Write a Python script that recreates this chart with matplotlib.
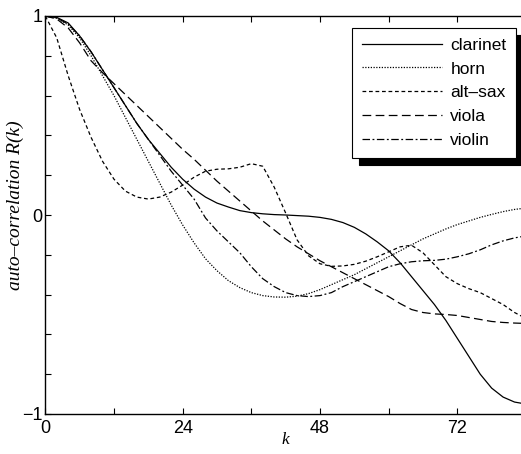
import matplotlib
matplotlib.use("Agg")
import matplotlib.pyplot as plt
from matplotlib.ticker import FixedLocator

K = list(range(0, 86, 2))

clarinet = [1.0, 0.993, 0.965, 0.90, 0.82, 0.73, 0.64, 0.55, 0.46, 0.38,
            0.31, 0.24, 0.18, 0.13, 0.09, 0.06, 0.04, 0.022, 0.012, 0.006,
            0.002, 0.0, -0.003, -0.006, -0.012, -0.022, -0.038, -0.062, -0.095, -0.135,
            -0.18, -0.24, -0.31, -0.38, -0.45, -0.53, -0.62, -0.71, -0.80, -0.87,
            -0.915, -0.94, -0.95]

horn = [1.0, 0.99, 0.955, 0.89, 0.80, 0.70, 0.60, 0.49, 0.38, 0.27,
        0.16, 0.05, -0.05, -0.14, -0.22, -0.28, -0.33, -0.365, -0.39, -0.405,
        -0.412, -0.413, -0.408, -0.395, -0.375, -0.35, -0.325, -0.30, -0.27, -0.24,
        -0.21, -0.18, -0.15, -0.12, -0.095, -0.07, -0.048, -0.03, -0.012, 0.003,
        0.017, 0.028, 0.035]

altsax = [1.0, 0.89, 0.70, 0.53, 0.39, 0.27, 0.18, 0.12, 0.09, 0.08,
          0.09, 0.115, 0.15, 0.19, 0.22, 0.23, 0.232, 0.24, 0.258, 0.245,
          0.14, 0.01, -0.125, -0.205, -0.245, -0.258, -0.256, -0.248, -0.232, -0.21,
          -0.185, -0.16, -0.152, -0.19, -0.25, -0.31, -0.345, -0.37, -0.39, -0.42,
          -0.45, -0.49, -0.52]

viola = [1.0, 0.985, 0.94, 0.865, 0.775, 0.715, 0.66, 0.605, 0.55, 0.495,
         0.44, 0.385, 0.33, 0.28, 0.225, 0.17, 0.12, 0.07, 0.02, -0.03,
         -0.075, -0.12, -0.16, -0.195, -0.23, -0.26, -0.29, -0.32, -0.35, -0.38,
         -0.41, -0.445, -0.475, -0.49, -0.497, -0.50, -0.505, -0.515, -0.525, -0.535,
         -0.54, -0.543, -0.545]

violin = [1.0, 0.99, 0.96, 0.90, 0.82, 0.73, 0.64, 0.55, 0.46, 0.38,
          0.30, 0.22, 0.15, 0.08, -0.015, -0.08, -0.135, -0.19, -0.26, -0.32,
          -0.36, -0.39, -0.405, -0.41, -0.405, -0.39, -0.36, -0.335, -0.31, -0.285,
          -0.26, -0.245, -0.235, -0.23, -0.228, -0.222, -0.21, -0.195, -0.175, -0.15,
          -0.13, -0.115, -0.105]

labels = ["clarinet", "horn", "alt\u2013sax", "viola", "violin"]
x_major = [0, 24, 48, 72]
x_minor = [12, 36, 60, 84]
y_major = [-1, 0, 1]
y_major_labels = ["\u22121", "0", "1"]
y_minor = [-0.8, -0.6, -0.4, -0.2, 0.2, 0.4, 0.6, 0.8]

plt.rcParams['font.family'] = ['Liberation Sans', 'DejaVu Sans']

fig = plt.figure(figsize=(5.21, 4.54), dpi=100)
W, H = 521, 454
ax = fig.add_axes([45.3 / W, 40 / H, 480.7 / W, 398 / H])

lw = 0.9
ax.plot(K, clarinet, color='k', lw=lw, ls='-', label=labels[0])
ax.plot(K, horn, color='k', lw=lw, ls=(0, (1, 1.2)), label=labels[1])
ax.plot(K, altsax, color='k', lw=lw, ls=(0, (3, 2.2)), label=labels[2])
ax.plot(K, viola, color='k', lw=lw, ls=(0, (7, 3.5)), label=labels[3])
ax.plot(K, violin, color='k', lw=lw, ls=(0, (6, 2, 1.5, 2)), label=labels[4])

ax.set_xlim(0, 84)
ax.set_ylim(-1, 1)
ax.xaxis.set_major_locator(FixedLocator(x_major))
ax.xaxis.set_minor_locator(FixedLocator(x_minor))
ax.yaxis.set_major_locator(FixedLocator(y_major))
ax.yaxis.set_minor_locator(FixedLocator(y_minor))
ax.set_yticklabels(y_major_labels)
ax.tick_params(which='both', direction='in', length=4, width=0.8,
               top=True, right=False, labelsize=13)
ax.tick_params(axis='x', pad=4)
ax.tick_params(axis='y', pad=2)
for s in ['left', 'bottom', 'top']:
    ax.spines[s].set_linewidth(1.0)
ax.spines['right'].set_visible(False)

ax.set_xlabel("k", family='Liberation Serif', style='italic', fontsize=12.5)
ax.xaxis.set_label_coords(0.5, -0.045)
ax.set_ylabel("auto\u2013correlation R(k)", family='Liberation Serif', style='italic',
              fontsize=14)
ax.yaxis.set_label_coords(-0.045, 0.525)

leg = ax.legend(loc='upper right', bbox_to_anchor=(516 / W, 1 - 28 / H),
                bbox_transform=fig.transFigure,
                fontsize=12.5, handlelength=4.6, handletextpad=0.5,
                labelspacing=0.5, borderpad=0.55, borderaxespad=0,
                fancybox=False, framealpha=1, edgecolor='k',
                shadow={'color': 'k', 'alpha': 1, 'ox': 5, 'oy': -5})
leg.get_frame().set_linewidth(0.8)

fig.savefig("out.png", dpi=100)
